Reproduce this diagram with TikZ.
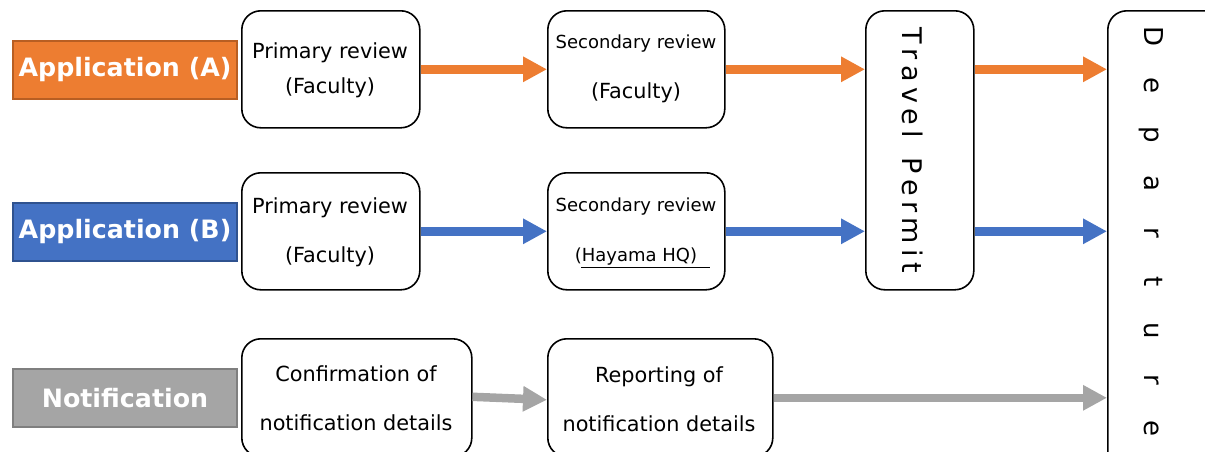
\documentclass[tikz,border=0pt]{standalone}
\usepackage{fontspec}
\setmainfont{DejaVu Sans}
\usetikzlibrary{arrows.meta,calc}
\definecolor{orA}{HTML}{ED7D31}
\definecolor{orAd}{HTML}{B85E22}
\definecolor{blB}{HTML}{4472C4}
\definecolor{blBd}{HTML}{2F528F}
\definecolor{grN}{HTML}{A5A5A5}
\definecolor{grNd}{HTML}{7F7F7F}
\newcommand{\tk}{\kern5.4pt}
\newcommand{\dl}[1]{\makebox[49pt]{#1}}
\begin{document}
\begin{tikzpicture}[x=1pt,y=-1pt,
  box/.style={draw, line width=1.6pt, rounded corners=19pt, fill=white, inner sep=0pt, anchor=north west, align=center},
  lab/.style={draw, line width=2pt, text=white, font=\bfseries\fontsize{25.3}{28}\selectfont, minimum width=224pt, minimum height=58pt, inner sep=0pt, anchor=north west},
  flow/.style={line width=8.5pt, -{Triangle[length=24pt,width=24pt]}},
  big/.style={font=\fontsize{20.8}{49}\selectfont},
  small/.style={font=\fontsize{18}{50}\selectfont}
]
\useasboundingbox (0,0) rectangle (1205,451);
\clip (0,0) rectangle (1205,451);

% labels
\node[lab, fill=orA, draw=orAd] (la) at (12,40) {Application (A)};
\node[lab, fill=blB, draw=blBd] (lb) at (12,202) {Application (B)};
\node[lab, fill=grN, draw=grNd] (ln) at (12,368) {Notification};

% boxes
\node[box, minimum width=178pt, minimum height=117pt] (pa) at (241,10) {};
\node[font=\fontsize{20.8}{35}\selectfont, align=center] (pat) at (330,70) {Primary review\\(Faculty)};
\node[box, minimum width=177pt, minimum height=117pt] (sa) at (547,10) {};
\node[small, align=center] (sat) at (636,69) {Secondary review\\{\fontsize{20.8}{24}\selectfont(Faculty)}};

\node[box, minimum width=178pt, minimum height=117pt] (pb) at (241,172) {};
\node[big, align=center] (pbt) at (330,232) {Primary review\\(Faculty)};
\node[box, minimum width=177pt, minimum height=117pt] (sb) at (547,172) {};
\node[small, align=center] (sbt) at (636,232) {Secondary review\\(Hayama HQ)};
\draw[line width=1pt] (581,267) -- (710,267);

\node[box, minimum width=230pt, minimum height=118pt] (cf) at (241,338) {};
\node[big, align=center] (cft) at (356,398) {Confirmation of\\notification details};
\node[box, minimum width=225pt, minimum height=118pt] (rp) at (547,338) {};
\node[big, align=center] (rpt) at (659,399) {Reporting of\\notification details};

% travel permit
\node[box, minimum width=108pt, minimum height=279pt] (tp) at (865,10) {};
\node[rotate=-90, anchor=base, font=\fontsize{27}{30}\selectfont, inner sep=0pt] (tpt) at (902,150)
  {T\tk r\tk a\tk v\tk e\tk l\tk\ \tk P\tk e\tk r\tk m\tk i\tk t};

% departure
\node[box, minimum width=130pt, minimum height=480pt] (dep) at (1107,10) {};
\node[rotate=-90, anchor=base, font=\fontsize{26}{30}\selectfont, inner sep=0pt] (dept) at (1144,232.5)
  {\dl{D}\dl{e}\dl{p}\dl{a}\dl{r}\dl{t}\dl{u}\dl{r}\dl{e}};

% arrows A
\draw[flow, orA] (pa.east) -- (sa.west);
\draw[flow, orA] (sa.east) -- (tp.west |- sa.east);
\draw[flow, orA] (tp.east |- sa.east) -- (dep.west |- sa.east);
% arrows B
\draw[flow, blB] (pb.east) -- (sb.west);
\draw[flow, blB] (sb.east) -- (tp.west |- sb.east);
\draw[flow, blB] (tp.east |- sb.east) -- (dep.west |- sb.east);
% arrows N
\draw[flow, grN] ($(cf.east)+(0,-1)$) -- ($(rp.west)+(0,2)$);
\draw[flow, grN] (rp.east) -- (dep.west |- rp.east);
\end{tikzpicture}
\end{document}
